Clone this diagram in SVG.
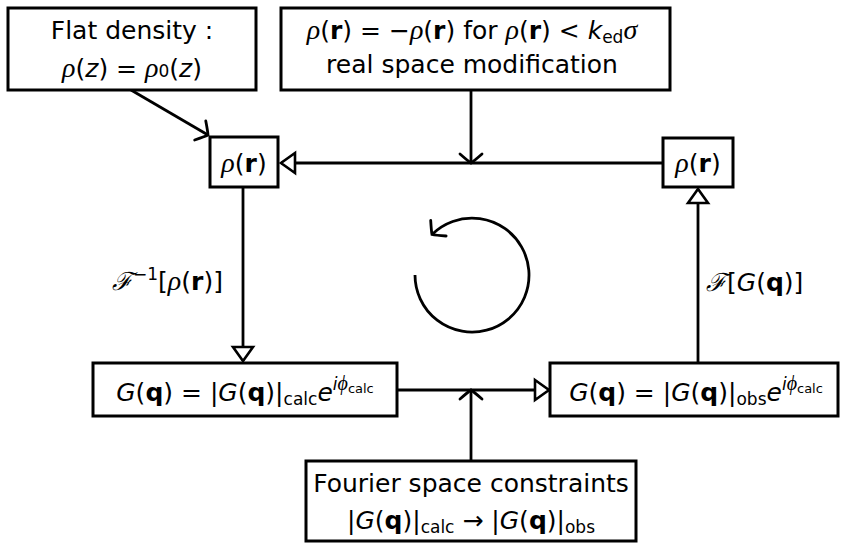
<svg xmlns="http://www.w3.org/2000/svg" width="844" height="543" viewBox="0 0 844 543">
<style>
.box{fill:#fff;stroke:#000;stroke-width:3}
.ln{fill:none;stroke:#000;stroke-width:2.8}
text{font-family:"DejaVu Sans","Liberation Sans",sans-serif;font-size:25px;fill:#000}
.c{text-anchor:middle}
.g{font-family:"Liberation Serif","DejaVu Serif",serif;font-style:italic;font-size:28px}
.i{font-style:italic}
.b{font-weight:bold}
.s{font-size:17px}
.ss{font-size:13px}
.gs{font-family:"Liberation Serif","DejaVu Serif",serif;font-style:italic;font-size:20px}
.sc{font-family:"DejaVu Serif",serif;font-style:italic}
</style>
<defs>
<marker id="tri" markerUnits="userSpaceOnUse" markerWidth="16" markerHeight="22" viewBox="-1 -1 16 22" refX="14" refY="10" orient="auto" overflow="visible">
<path d="M0,0 L14,10 L0,20 Z" fill="#fff" stroke="#000" stroke-width="2.6"/>
</marker>
<marker id="to" markerUnits="userSpaceOnUse" markerWidth="14" markerHeight="26" viewBox="-12 -13 14 26" refX="0" refY="0" orient="auto" overflow="visible">
<path d="M-9,-11 Q-2,-3 0,0 Q-2,3 -9,11" fill="none" stroke="#000" stroke-width="2.8" stroke-linecap="round"/>
</marker>
</defs>

<g id="connectors">
<line class="ln" x1="131" y1="90" x2="208" y2="135" marker-end="url(#to)"/>
<line class="ln" x1="663" y1="163" x2="281" y2="163" marker-end="url(#tri)"/>
<line class="ln" x1="471" y1="90" x2="471" y2="163" marker-end="url(#to)"/>
<line class="ln" x1="243" y1="187" x2="243" y2="361" marker-end="url(#tri)"/>
<line class="ln" x1="397" y1="390" x2="549" y2="390" marker-end="url(#tri)"/>
<line class="ln" x1="471" y1="461" x2="471" y2="390" marker-end="url(#to)"/>
<line class="ln" x1="698" y1="363" x2="698" y2="189" marker-end="url(#tri)"/>
<path class="ln" d="M415,275 A57,57 0 1 0 432,234.5" marker-end="url(#to)"/>
</g>

<g id="flat-density">
<rect class="box" x="8" y="8" width="248" height="82"/>
<text class="c" x="132" y="39">Flat density :</text>
<text class="c" x="132" y="77"><tspan class="g">ρ</tspan>(<tspan class="i">z</tspan>)&#160;=&#160;<tspan class="g">ρ</tspan><tspan class="s">0</tspan>(<tspan class="i">z</tspan>)</text>
</g>

<g id="real-space">
<rect class="box" x="281" y="8" width="389" height="82"/>
<text class="c" x="472" y="39"><tspan class="g">ρ</tspan>(<tspan class="b">r</tspan>)&#160;=&#160;−<tspan class="g">ρ</tspan>(<tspan class="b">r</tspan>) for <tspan class="g">ρ</tspan>(<tspan class="b">r</tspan>)&#160;&lt;&#160;<tspan class="i">k</tspan><tspan class="s" dy="4">ed</tspan><tspan class="g" dy="-4">σ</tspan></text>
<text class="c" x="472" y="73">real space modification</text>
</g>

<g id="rho-left">
<rect class="box" x="210" y="137" width="68" height="50"/>
<text class="c" x="244" y="172"><tspan class="g">ρ</tspan>(<tspan class="b">r</tspan>)</text>
</g>

<g id="rho-right">
<rect class="box" x="663" y="138" width="70" height="49"/>
<text class="c" x="698" y="172"><tspan class="g">ρ</tspan>(<tspan class="b">r</tspan>)</text>
</g>

<g id="label-inverse">
<text x="112" y="290"><tspan class="sc">ℱ</tspan><tspan class="s" dy="-10">−1</tspan><tspan dy="10">[</tspan><tspan class="g">ρ</tspan>(<tspan class="b">r</tspan>)]</text>
</g>

<g id="label-forward">
<text x="706" y="291"><tspan class="sc">ℱ</tspan>[<tspan class="i">G</tspan>(<tspan class="b">q</tspan>)]</text>
</g>

<g id="g-calc">
<rect class="box" x="93" y="363" width="304" height="53"/>
<text class="c" x="245" y="401"><tspan class="i">G</tspan>(<tspan class="b">q</tspan>)&#160;=&#160;|<tspan class="i">G</tspan>(<tspan class="b">q</tspan>)|<tspan class="s" dy="4">calc</tspan><tspan class="i" dy="-4">e</tspan><tspan class="i s" dy="-11">i</tspan><tspan class="gs">ϕ</tspan><tspan class="ss" dy="3">calc</tspan></text>
</g>

<g id="g-obs">
<rect class="box" x="550" y="363" width="288" height="53"/>
<text class="c" x="696" y="401"><tspan class="i">G</tspan>(<tspan class="b">q</tspan>)&#160;=&#160;|<tspan class="i">G</tspan>(<tspan class="b">q</tspan>)|<tspan class="s" dy="4">obs</tspan><tspan class="i" dy="-4">e</tspan><tspan class="i s" dy="-11">i</tspan><tspan class="gs">ϕ</tspan><tspan class="ss" dy="3">calc</tspan></text>
</g>

<g id="fourier">
<rect class="box" x="306" y="461" width="330" height="80"/>
<text class="c" x="471" y="492">Fourier space constraints</text>
<text class="c" x="471" y="529">|<tspan class="i">G</tspan>(<tspan class="b">q</tspan>)|<tspan class="s" dy="4">calc</tspan><tspan dy="-4">&#160;→&#160;|</tspan><tspan class="i">G</tspan>(<tspan class="b">q</tspan>)|<tspan class="s" dy="4">obs</tspan></text>
</g>
</svg>
